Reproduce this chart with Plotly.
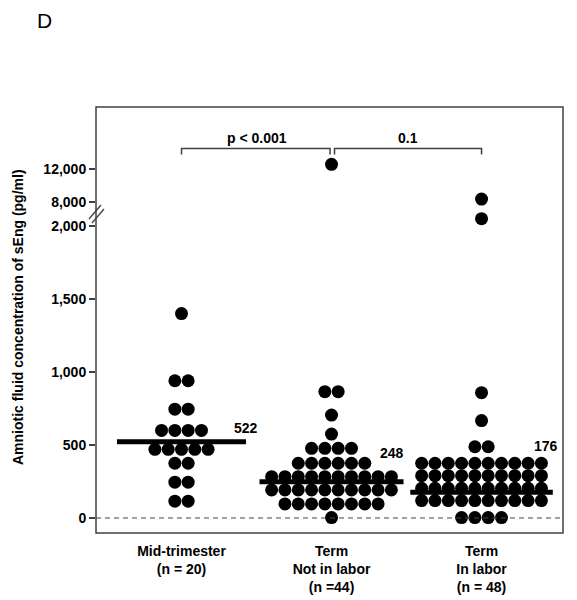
import plotly.graph_objects as go
from collections import Counter

# ---------------- data ----------------
categories = ["Mid-trimester", "Term Not in labor", "Term In labor"]
tick_labels_x = ["Mid-trimester<br>(n = 20)", "Term<br>Not in labor<br>(n =44)", "Term<br>In labor<br>(n = 48)"]

mid_trimester = [1400, 940, 940, 745, 745, 600, 600, 600, 600, 470, 470, 470, 470, 470,
                 375, 375, 245, 245, 115, 115]
term_not_in_labor = [12570, 865, 865, 705, 575, 477, 477, 477, 477,
                     375, 375, 375, 375, 375, 375,
                     283, 283, 283, 283, 283, 283, 283, 283, 283, 283,
                     192, 192, 192, 192, 192, 192, 192, 192, 192, 192,
                     96, 96, 96, 96, 96, 96, 96, 96, 3]
term_in_labor = [8360, 2050, 858, 667, 488, 488,
                 375, 375, 375, 375, 375, 375, 375, 375, 375, 375,
                 290, 290, 290, 290, 290, 290, 290, 290, 290, 290,
                 203, 203, 203, 203, 203, 203, 203, 203, 203, 203,
                 119, 119, 119, 119, 119, 119, 119, 119, 119, 119,
                 3, 3, 3, 3]
medians = [522, 248, 176]
median_labels = ["522", "248", "176"]
p_labels = ["p < 0.001", "0.1"]

y_low_ticks = [0, 500, 1000, 1500, 2000]
y_low_text = ["0", "500", "1,000", "1,500", "2,000"]
y_high_ticks = [8000, 12000]
y_high_text = ["8,000", "12,000"]

# ---------------- layout constants ----------------
FONT = "Liberation Sans, Arial, sans-serif"
STEP = 0.0887          # horizontal spacing between stacked dots (x units)
LOW_MAX = 2096
LOW_RANGE = [-103, LOW_MAX]
HIGH_RANGE = [6788, 19515]
SPLIT = 0.7535
AX = "#404040"
# page body has an 8px margin; plot area kept at screen x 96..563, y 107..533
OFF = 8

def swarm(vals, center):
    cnt = Counter(vals)
    seen = Counter()
    xs = []
    for v in vals:
        n = cnt[v]
        i = seen[v]
        seen[v] += 1
        xs.append(center + (i - (n - 1) / 2) * STEP)
    return xs

fig = go.Figure()
groups = [mid_trimester, term_not_in_labor, term_in_labor]
for gi, vals in enumerate(groups):
    xs = swarm(vals, gi)
    lo = [(x, v) for x, v in zip(xs, vals) if v <= LOW_MAX]
    hi = [(x, v) for x, v in zip(xs, vals) if v > LOW_MAX]
    marker = dict(color="black", size=13, line=dict(width=0))
    fig.add_trace(go.Scatter(x=[p[0] for p in lo], y=[p[1] for p in lo], mode="markers",
                             marker=marker, cliponaxis=False, showlegend=False,
                             name=categories[gi]))
    if hi:
        fig.add_trace(go.Scatter(x=[p[0] for p in hi], y=[p[1] for p in hi], mode="markers",
                                 marker=marker, cliponaxis=False, showlegend=False,
                                 xaxis="x", yaxis="y2", name=categories[gi]))

shapes = []
# frame
shapes.append(dict(type="rect", xref="paper", yref="paper", x0=0, x1=1, y0=0, y1=1,
                   line=dict(color=AX, width=1.5)))
# zero dashed line
shapes.append(dict(type="line", xref="paper", yref="y", x0=0, x1=1, y0=0, y1=0,
                   line=dict(color="#444444", width=1, dash="5px,4px")))
# median lines
half_w = [0.43, 0.48, 0.475]
for gi, m in enumerate(medians):
    shapes.append(dict(type="line", xref="x", yref="y", x0=gi - half_w[gi], x1=gi + half_w[gi],
                       y0=m, y1=m, line=dict(color="black", width=5)))
# brackets
def px2py(py):
    return (533 - py) / 426
def px2px(px):
    return (px - 96) / 467
by, bt = px2py(148.5), px2py(154.5)
for (a, b) in [(0, 0.99), (1.02, 2)]:
    shapes.append(dict(type="path", xref="x", yref="paper",
                       path=f"M {a},{bt} L {a},{by} L {b},{by} L {b},{bt}",
                       line=dict(color=AX, width=1.5)))
# axis break marks
for (x0, y0, x1, y1) in [(89, 219, 101, 205), (92, 223, 104, 209)]:
    shapes.append(dict(type="line", xref="paper", yref="paper",
                       x0=px2px(x0), y0=px2py(y0), x1=px2px(x1), y1=px2py(y1),
                       line=dict(color=AX, width=1.3)))

bold = dict(family=FONT, size=14, color="black", weight="bold")
annotations = []
label_dx = [0.43, 0.40, 0.43]
label_dy = [14, 29, 46]
for gi, m in enumerate(medians):
    annotations.append(dict(x=gi + label_dx[gi], y=m, xref="x", yref="y", text=median_labels[gi],
                            showarrow=False, xanchor="center", yanchor="middle",
                            yshift=label_dy[gi], font=bold))
for xc, t in zip([0.5, 1.51], p_labels):
    annotations.append(dict(x=xc, y=px2py(137.5), xref="x", yref="paper", text=t,
                            showarrow=False, xanchor="center", yanchor="middle", font=bold))
annotations.append(dict(x=px2px(18), y=px2py(317), xref="paper", yref="paper",
                        text="Amniotic fluid concentration of sEng (pg/ml)", textangle=-90,
                        showarrow=False, xanchor="center", yanchor="middle", font=bold))
annotations.append(dict(x=px2px(44), y=px2py(OFF), xref="paper", yref="paper", text="D",
                        showarrow=False, xanchor="center", yanchor="top", borderpad=0,
                        font=dict(family=FONT, size=21, color="black")))

yax_common = dict(showgrid=False, zeroline=False, showline=False, ticks="outside",
                  ticklen=6, tickwidth=1.5, tickcolor=AX, tickfont=bold, automargin=False)
fig.update_layout(
    width=577 - OFF, height=600 - OFF,
    margin=dict(l=96 - OFF, r=14, t=107 - OFF, b=67, pad=0, autoexpand=False),
    paper_bgcolor="white", plot_bgcolor="white",
    xaxis=dict(range=[-0.57, 2.543], showgrid=False, zeroline=False, showline=False,
               tickvals=[0, 1, 2], ticktext=tick_labels_x, ticks="", tickfont=bold,
               ticklabelstandoff=8, anchor="y", automargin=False),
    yaxis=dict(domain=[0, SPLIT], range=LOW_RANGE, tickvals=y_low_ticks, ticktext=y_low_text,
               **yax_common),
    yaxis2=dict(domain=[SPLIT, 1], range=HIGH_RANGE, tickvals=y_high_ticks,
                ticktext=y_high_text, anchor="x", **yax_common),
    shapes=shapes, annotations=annotations,
)
fig.write_html("out.html")
